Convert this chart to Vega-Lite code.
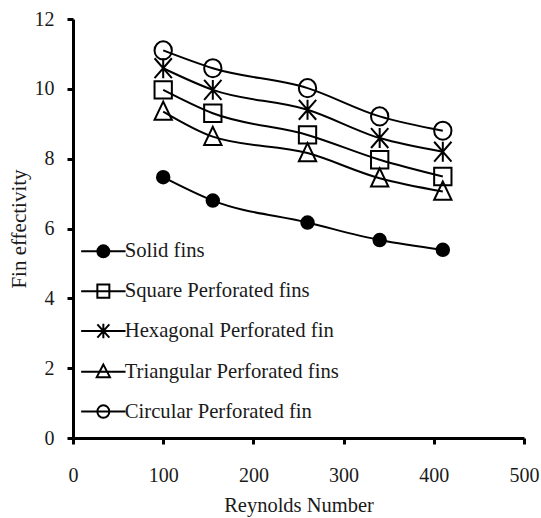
{
  "$schema": "https://vega.github.io/schema/vega-lite/v6.json",
  "width": 451,
  "height": 419,
  "autosize": {"type": "none"},
  "padding": {"left": 73, "top": 19, "right": 17, "bottom": 80},
  "background": "white",
  "config": {
    "view": {"stroke": null},
    "axis": {
      "domainColor": "black", "domainWidth": 3, "tickColor": "black", "tickWidth": 3, "tickSize": 6,
      "grid": false, "labelFont": "Liberation Serif", "labelFontSize": 20, "labelColor": "#1a1a1a",
      "titleFont": "Liberation Serif", "titleFontSize": 20.5, "titleFontWeight": "normal", "titleColor": "#1a1a1a",
      "labelOverlap": false
    }
  },
  "data": {"values": [
    {"series": "Solid fins", "re": 100, "eff": 7.47},
    {"series": "Solid fins", "re": 155, "eff": 6.80},
    {"series": "Solid fins", "re": 260, "eff": 6.17},
    {"series": "Solid fins", "re": 340, "eff": 5.67},
    {"series": "Solid fins", "re": 410, "eff": 5.39},
    {"series": "Square Perforated fins", "re": 100, "eff": 9.97},
    {"series": "Square Perforated fins", "re": 155, "eff": 9.30},
    {"series": "Square Perforated fins", "re": 260, "eff": 8.68},
    {"series": "Square Perforated fins", "re": 340, "eff": 7.97},
    {"series": "Square Perforated fins", "re": 410, "eff": 7.49},
    {"series": "Hexagonal Perforated fin", "re": 100, "eff": 10.59},
    {"series": "Hexagonal Perforated fin", "re": 155, "eff": 9.97},
    {"series": "Hexagonal Perforated fin", "re": 260, "eff": 9.40},
    {"series": "Hexagonal Perforated fin", "re": 340, "eff": 8.59},
    {"series": "Hexagonal Perforated fin", "re": 410, "eff": 8.20},
    {"series": "Triangular Perforated fins", "re": 100, "eff": 9.35},
    {"series": "Triangular Perforated fins", "re": 155, "eff": 8.63},
    {"series": "Triangular Perforated fins", "re": 260, "eff": 8.16},
    {"series": "Triangular Perforated fins", "re": 340, "eff": 7.44},
    {"series": "Triangular Perforated fins", "re": 410, "eff": 7.06},
    {"series": "Circular Perforated fin", "re": 100, "eff": 11.10},
    {"series": "Circular Perforated fin", "re": 155, "eff": 10.59},
    {"series": "Circular Perforated fin", "re": 260, "eff": 10.02},
    {"series": "Circular Perforated fin", "re": 340, "eff": 9.21},
    {"series": "Circular Perforated fin", "re": 410, "eff": 8.80}
  ]},
  "encoding": {
    "x": {"field": "re", "type": "quantitative", "scale": {"domain": [0, 500], "nice": false},
      "axis": {"values": [0, 100, 200, 300, 400, 500], "title": "Reynolds Number", "labelPadding": 21, "titlePadding": 10, "labelFlush": false}},
    "y": {"field": "eff", "type": "quantitative", "scale": {"domain": [0, 12], "nice": false},
      "axis": {"values": [0, 2, 4, 6, 8, 10, 12], "title": "Fin effectivity", "labelPadding": 13, "titlePadding": 5, "titleFontSize": 21}}
  },
  "layer": [
    {
      "mark": {"type": "line", "interpolate": "monotone", "stroke": "black", "strokeWidth": 2},
      "encoding": {"detail": {"field": "series"}}
    },
    {
      "mark": {"type": "point", "filled": true, "stroke": "black", "strokeWidth": 2, "size": 300, "opacity": 1},
      "encoding": {
        "shape": {"field": "series", "legend": null, "scale": {
          "domain": ["Solid fins", "Square Perforated fins", "Hexagonal Perforated fin", "Triangular Perforated fins", "Circular Perforated fin"],
          "range": [
            "M0.72,0A0.72,0.72 0 1,1 -0.72,0A0.72,0.72 0 1,1 0.72,0Z",
            "square",
            "M-1,-1.15L1,1.15M-1,1.15L1,-1.15M0,-1.15L0,1.15",
            "M0,-1.15L-1,0.95L1,0.95Z",
            "M1,0A1,1.05 0 1,1 -1,0A1,1.05 0 1,1 1,0Z"
          ]}},
        "fill": {"field": "series", "legend": null, "scale": {
          "domain": ["Solid fins", "Square Perforated fins", "Hexagonal Perforated fin", "Triangular Perforated fins", "Circular Perforated fin"],
          "range": ["black", "transparent", "transparent", "transparent", "transparent"]}}
      }
    },
    {
      "mark": {"type": "point", "filled": true, "stroke": "black", "strokeWidth": 2, "opacity": 0},
      "encoding": {
        "shape": {"field": "series", "scale": {
          "domain": ["Solid fins", "Square Perforated fins", "Hexagonal Perforated fin", "Triangular Perforated fins", "Circular Perforated fin"],
          "range": [
            "M-3.7,0H3.7M1,0A1,1 0 1,1 -1,0A1,1 0 1,1 1,0Z",
            "M-3.7,0H3.7M-1,-1.1H1V1.1H-1Z",
            "M-3.7,0H3.7M-1,-1.1L1,1.1M-1,1.1L1,-1.1M0,-1.2V1.2",
            "M-3.7,0H3.7M0,-1.2L-1.1,0.9L1.1,0.9Z",
            "M-3.7,0H3.7M1,0A1,1.05 0 1,1 -1,0A1,1.05 0 1,1 1,0Z"
          ]},
          "legend": {"title": null, "orient": "none", "legendX": 20, "legendY": 222, "symbolSize": 144,
            "symbolStrokeWidth": 2, "symbolStrokeColor": "black", "symbolFillColor": "transparent", "symbolOpacity": 1,
            "labelOffset": 11, "labelFont": "Liberation Serif", "labelFontSize": 20.7, "labelColor": "#1a1a1a",
            "rowPadding": 17.8, "padding": 0, "labelLimit": 400}},
        "fill": {"field": "series", "scale": {
          "domain": ["Solid fins", "Square Perforated fins", "Hexagonal Perforated fin", "Triangular Perforated fins", "Circular Perforated fin"],
          "range": ["black", "transparent", "transparent", "transparent", "transparent"]},
          "legend": {"title": null, "orient": "none", "legendX": 20, "legendY": 222, "symbolSize": 144,
            "symbolStrokeWidth": 2, "symbolStrokeColor": "black", "symbolFillColor": "transparent", "symbolOpacity": 1,
            "labelOffset": 11, "labelFont": "Liberation Serif", "labelFontSize": 20.7, "labelColor": "#1a1a1a",
            "rowPadding": 17.8, "padding": 0, "labelLimit": 400}}
      }
    }
  ],
  "resolve": {"scale": {"shape": "independent", "fill": "independent"}}
}
